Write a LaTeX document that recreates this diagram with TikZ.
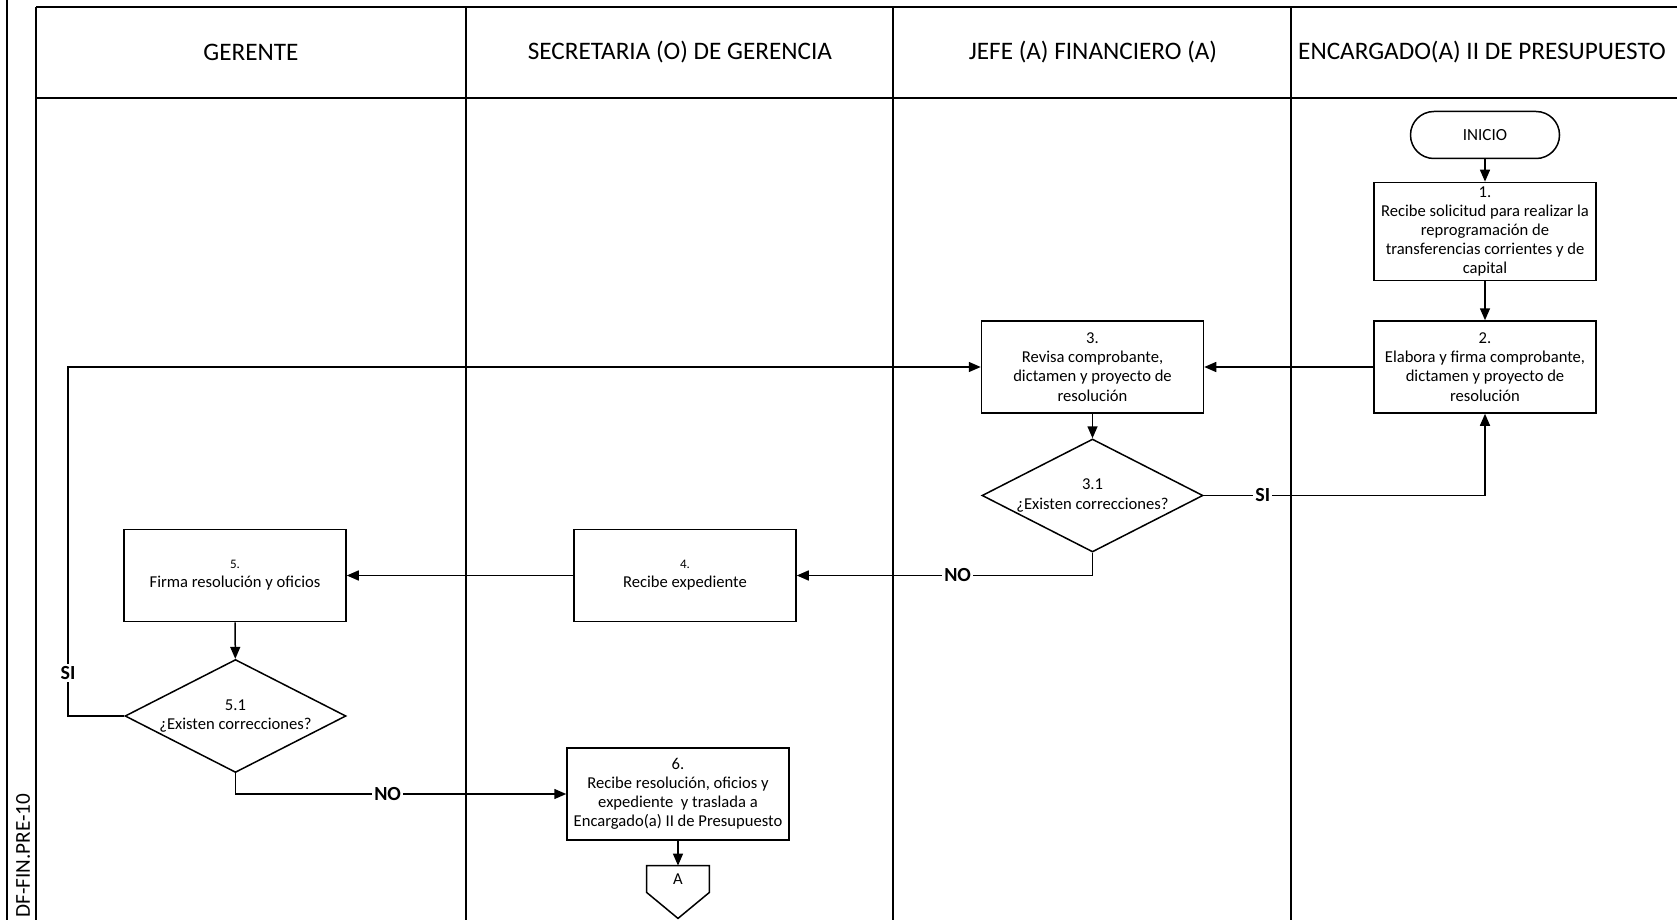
\documentclass[tikz,border=0pt]{standalone}
\usepackage{fontspec}
\setmainfont{Carlito}
\usetikzlibrary{arrows.meta,shapes.geometric,calc}

\tikzset{
  lane/.style={line width=1pt},
  proc/.style={draw, line width=0.75pt, minimum width=111pt, minimum height=46pt,
    inner sep=2pt, align=center, font=\fontsize{8.3}{9.6}\selectfont},
  term/.style={draw, line width=0.75pt, minimum width=74.5pt, minimum height=23.5pt,
    rounded corners=11.7pt, font=\fontsize{8.5}{10}\selectfont},
  dec/.style={draw, diamond, line width=0.75pt, minimum width=110.5pt, minimum height=56.5pt,
    inner sep=0pt},
  dectext/.style={align=center, font=\fontsize{8.3}{9.6}\selectfont},
  flow/.style={line width=0.75pt, -{Triangle[length=6pt,width=5pt]}},
  lbl/.style={fill=white, inner sep=1pt, font=\fontsize{10}{12}\selectfont\bfseries},
  head/.style={font=\fontsize{12.6}{14}\selectfont},
}

\begin{document}
\begin{tikzpicture}[x=0.5pt,y=-0.5pt]
\useasboundingbox (0,0) rectangle (1677,920);

% swimlane frame
\draw[lane] (7,-5) -- (7,925);
\draw[lane] (36,7) -- (36,925);
\draw[lane] (36,7) -- (1682,7);
\draw[lane] (36,98) -- (1682,98);
\foreach \x in {466,893,1291} \draw[lane] (\x,7) -- (\x,925);

% lane titles
\node[head] (hG) at (251,52) {GERENTE};
\node[head] (hS) at (680,52) {SECRETARIA (O) DE GERENCIA};
\node[head] (hJ) at (1093,52) {JEFE (A) FINANCIERO (A)};
\node[head] (hE) at (1482,52) {ENCARGADO(A) II DE PRESUPUESTO};

% document code
\node[rotate=90, anchor=base west, inner sep=0pt, font=\fontsize{10.6}{12}\selectfont]
  (code) at (30,918) {DF-FIN.PRE-10};

% steps
\node[term] (inicio) at (1485,135) {INICIO};
\node[proc] (b1) at (1485,231.5) {1.\\Recibe solicitud para realizar la\\reprogramación de\\transferencias corrientes y de\\capital};
\node[proc] (b2) at (1485,367) {2.\\Elabora y firma comprobante,\\dictamen y proyecto de\\resolución};
\node[proc] (b3) at (1092.5,367) {3.\\Revisa comprobante,\\dictamen y proyecto de\\resolución};
\node[dec] (d31) at (1092.5,495.5) {};
\node[dectext] (t31) at (d31) {3.1\\¿Existen correcciones?};
\node[proc] (b4) at (685,575.5) {{\fontsize{6.5}{8}\selectfont 4.}\\Recibe expediente};
\node[proc] (b5) at (235,575.5) {{\fontsize{6.5}{8}\selectfont 5.}\\Firma resolución y oficios};
\node[dec] (d51) at (235.5,716) {};
\node[dectext] (t51) at (d51) {5.1\\¿Existen correcciones?};
\node[proc] (b6) at (678,794) {6.\\Recibe resolución, oficios y\\expediente\ \ y traslada a\\Encargado(a) II de Presupuesto};

% off-page connector
\node[inner sep=0pt, minimum width=31pt, minimum height=13pt, font=\fontsize{8.3}{10}\selectfont] (offA) at (678,879) {A};
\draw[line width=0.75pt] (offA.north west) -- (offA.north east) -- (offA.south east)
  -- ($(offA.south)+(0,26)$) -- (offA.south west) -- cycle;

% connectors
\draw[flow] (inicio) -- (b1);
\draw[flow] (b1) -- (b2);
\draw[flow] (b2) -- (b3);
\draw[flow] (b3) -- (d31);
\draw[flow] (d31.east) -| node[lbl, pos=0.105] {SI} (b2.south);
\draw[flow] (d31.south) |- node[lbl, pos=0.728] {NO} (b4.east);
\draw[flow] (b4) -- (b5);
\draw[flow] (b5) -- (d51);
\coordinate (loop) at (68,716);
\draw[flow] (d51.west) -- (loop) |- (b3.west);
\node[lbl] (siL) at (68,673) {SI};
\draw[flow] (d51.south) |- node[lbl, pos=0.73] {NO} (b6.west);
\draw[flow] (b6) -- (offA.north);
\end{tikzpicture}
\end{document}
